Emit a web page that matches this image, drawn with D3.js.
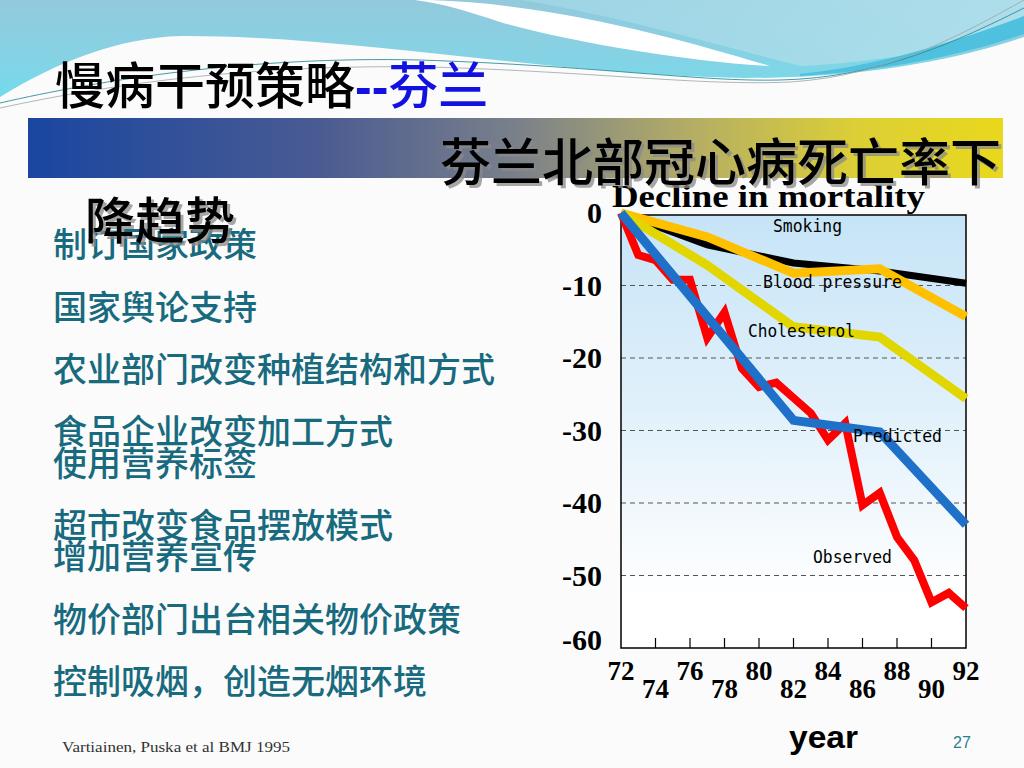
<!DOCTYPE html>
<html>
<head>
<meta charset="utf-8">
<script src="https://cdn.jsdelivr.net/npm/d3@7"></script>
<style>
body{margin:0;background:#fbfbfb;}
svg{display:block;}
</style>
</head>
<body>
<svg id="slide" width="1024" height="768"></svg>
<script>
// chart data
var obsYears = [72,73,74,75,76,77,78,79,80,81,82,83,84,85,86,87,88,89,90,91,92];
var observed = [0,-5.8,-6.5,-9.2,-9.2,-17.2,-13.7,-21.4,-24.0,-23.4,-25.5,-27.6,-31.3,-29.0,-40.3,-38.6,-44.7,-47.9,-53.7,-52.4,-54.5];
var riskYears = [72,77,82,87,92];
var smoking = [0,-4.4,-6.9,-8.0,-9.7];
var bloodPressure = [0,-3.3,-8.3,-7.7,-14.3];
var cholesterol = [0,-7.2,-15.7,-17.1,-25.6];
var predYears = [72,82,87,92];
var predicted = [0,-28.6,-30.2,-43.0];
var yTicks = [0,-10,-20,-30,-40,-50,-60];
var xTicks = [72,74,76,78,80,82,84,86,88,90,92];

var bullets = [
	["制订国家政策"],
	["国家舆论支持"],
	["农业部门改变种植结构和方式"],
	["食品企业改变加工方式","使用营养标签"],
	["超市改变食品摆放模式","增加营养宣传"],
	["物价部门出台相关物价政策"],
	["控制吸烟，创造无烟环境"]
];

var svg = d3.select("#slide");
var defs = svg.append("defs");
var CJK = "'Noto Sans CJK SC','Noto Sans',sans-serif";
var SERIF = "'Liberation Serif','DejaVu Serif',serif";
var MONO = "'DejaVu Sans Mono','Liberation Mono',monospace";

function addGrad(id, x2, y2, stops){
	var g = defs.append("linearGradient").attr("id",id)
		.attr("x1",0).attr("y1",0).attr("x2",x2).attr("y2",y2);
	stops.forEach(function(s){ g.append("stop").attr("offset",s[0]).attr("stop-color",s[1]); });
}
addGrad("sky",0,1,[[0,"#93c9dc"],[0.55,"#86d2e4"],[1,"#72dbeb"]]);
addGrad("skyR",1,0,[[0,"#9fd6e6"],[1,"#b3e1ec"]]);
addGrad("bar",1,0,[[0,"#1a46a0"],[0.3,"#4a5b92"],[0.5,"#7a808a"],[0.68,"#b4ad66"],[0.85,"#dccf36"],[1,"#e9d81c"]]);
addGrad("plotbg",0,1,[[0,"#c6e4f7"],[0.5,"#e4f2fb"],[0.88,"#ffffff"],[1,"#ffffff"]]);

// 背景波浪
svg.append("path")
	.attr("d","M0,0 H1024 V37 C970,55 880,78 745,78 C550,75 350,35 180,36 C120,38 60,60 0,97 Z")
	.attr("fill","url(#sky)");
svg.append("path")
	.attr("d","M520,0 H1024 V30 C960,48 880,62 800,66 C700,40 600,12 520,0 Z")
	.attr("fill","url(#skyR)").attr("opacity",0.85);
svg.append("path")
	.attr("d","M430,0 C560,4 690,42 770,66 C690,62 570,42 500,22 C470,12 445,4 415,0 Z")
	.attr("fill","#ffffff");
svg.append("path")
	.attr("d","M800,74 C880,66 960,40 1024,16 V34 C960,56 890,70 800,76 Z")
	.attr("fill","#4fc1de");
svg.append("path")
	.attr("d","M0,103 C100,80 250,56 420,60 C600,66 700,82 780,80 C880,78 960,40 1024,8")
	.attr("fill","none").attr("stroke","#2f8e9e").attr("stroke-width",0.9);
svg.append("path")
	.attr("d","M0,108 C120,82 260,64 430,67 C600,72 700,86 790,82 C890,76 970,30 1024,0")
	.attr("fill","none").attr("stroke","#9aa6a8").attr("stroke-width",0.8);

// 渐层横条
svg.append("rect").attr("x",28).attr("y",118).attr("width",975).attr("height",60).attr("fill","url(#bar)");

// 标题
var t1 = svg.append("text").attr("x",55).attr("y",104).attr("font-family",CJK).attr("font-weight",500).attr("font-size",50);
t1.append("tspan").attr("fill","#000").text("慢病干预策略");
t1.append("tspan").attr("fill","#1212e0").attr("font-family","'Liberation Sans',sans-serif").attr("font-weight","bold").text("--");
t1.append("tspan").attr("fill","#1212e0").text("芬兰");

// 左侧条列文字
var lineY = [[257],[320],[382],[444,476],[538,569],[632],[694]];
bullets.forEach(function(b,i){
	b.forEach(function(s,j){
		svg.append("text").attr("x",53).attr("y",lineY[i][j])
			.attr("font-family",CJK).attr("font-weight",500).attr("font-size",34).attr("fill","#186a7e").text(s);
	});
});

// 图表
var x = d3.scaleLinear().domain([72,92]).range([621,966]);
var y = d3.scaleLinear().domain([0,-60]).range([213,648]);
var plot = svg.append("g");
plot.append("rect").attr("x",621).attr("y",215).attr("width",345).attr("height",433).attr("fill","url(#plotbg)");

// 虚线格线
plot.selectAll("line.grid").data(yTicks.filter(function(v){return v<0 && v>-60;}))
	.enter().append("line").attr("class","grid")
	.attr("x1",621).attr("x2",966).attr("y1",function(d){return y(d);}).attr("y2",function(d){return y(d);})
	.attr("stroke","#555").attr("stroke-width",1).attr("stroke-dasharray","5,4");

// 底部刻度 (向内)
plot.selectAll("line.tk").data(xTicks.slice(1,-1)).enter().append("line").attr("class","tk")
	.attr("x1",function(d){return x(d);}).attr("x2",function(d){return x(d);})
	.attr("y1",648).attr("y2",638).attr("stroke","#000").attr("stroke-width",1.2);

plot.append("rect").attr("x",621).attr("y",215).attr("width",345).attr("height",433)
	.attr("fill","none").attr("stroke","#000").attr("stroke-width",1.5);

// 轴标签
svg.selectAll("text.yl").data(yTicks).enter().append("text").attr("class","yl")
	.attr("x",602).attr("y",function(d){return Math.min(y(d),640)+10;})
	.attr("text-anchor","end").attr("font-family",SERIF).attr("font-weight","bold").attr("font-size",30)
	.text(function(d){return d;});
svg.selectAll("text.xl").data(xTicks).enter().append("text").attr("class","xl")
	.attr("x",function(d){return x(d);}).attr("y",function(d,i){return i%2==0 ? 680 : 698;})
	.attr("text-anchor","middle").attr("font-family",SERIF).attr("font-weight","bold").attr("font-size",27)
	.text(function(d){return d;});

function drawLine(xs, vals, color, w){
	var pts = xs.map(function(v,i){return [v, vals[i]];});
	var line = d3.line().x(function(d){return x(d[0]);}).y(function(d){return y(d[1]);});
	plot.append("path").datum(pts).attr("d",line).attr("fill","none")
		.attr("stroke",color).attr("stroke-width",w).attr("stroke-linejoin","miter").attr("stroke-miterlimit",3);
}
drawLine(riskYears, smoking, "#000000", 7);
drawLine(riskYears, bloodPressure, "#ffc000", 9);
drawLine(riskYears, cholesterol, "#e2d600", 9);
drawLine(obsYears, observed, "#ff0000", 8);
drawLine(predYears, predicted, "#1f70c8", 9);

// 曲线名称
var seriesLabels = [
	["Smoking",773,232,69],
	["Blood pressure",763,288,139],
	["Cholesterol",748,337,107],
	["Predicted",853,442,89],
	["Observed",813,563,79]
];
seriesLabels.forEach(function(l){
	svg.append("text").attr("x",l[1]).attr("y",l[2]).attr("font-family",MONO).attr("font-size",17)
		.attr("textLength",l[3]).attr("lengthAdjust","spacingAndGlyphs").attr("fill","#000").text(l[0]);
});

svg.append("text").attr("x",612).attr("y",207).attr("font-family",SERIF).attr("font-weight","bold")
	.attr("font-size",31).attr("textLength",313).attr("lengthAdjust","spacingAndGlyphs").text("Decline in mortality");

svg.append("text").attr("x",789).attr("y",748).attr("font-family","'Liberation Sans',sans-serif").attr("font-weight","bold")
	.attr("font-size",31).attr("textLength",69).attr("lengthAdjust","spacingAndGlyphs").text("year");

// 副标题 (带阴影)
function shadowText(str, px, py, fs){
	svg.append("text").attr("x",px+3).attr("y",py+3).attr("font-family",CJK).attr("font-weight",500).attr("font-size",fs)
		.attr("fill","#8a8a8a").attr("opacity",0.75).text(str);
	svg.append("text").attr("x",px).attr("y",py).attr("font-family",CJK).attr("font-weight",500).attr("font-size",fs)
		.attr("fill","#000").text(str);
}
shadowText("芬兰北部冠心病死亡率下", 440, 181, 51);
shadowText("降趋势", 85, 239, 50);

// 页脚
svg.append("text").attr("x",62).attr("y",752).attr("font-family",SERIF).attr("font-size",15)
	.attr("textLength",228).attr("lengthAdjust","spacingAndGlyphs").attr("fill","#333").text("Vartiainen, Puska et al BMJ 1995");
svg.append("text").attr("x",953).attr("y",748).attr("font-family","'Liberation Sans',sans-serif").attr("font-size",16)
	.attr("fill","#2a7f8f").text("27");
</script>
</body>
</html>
